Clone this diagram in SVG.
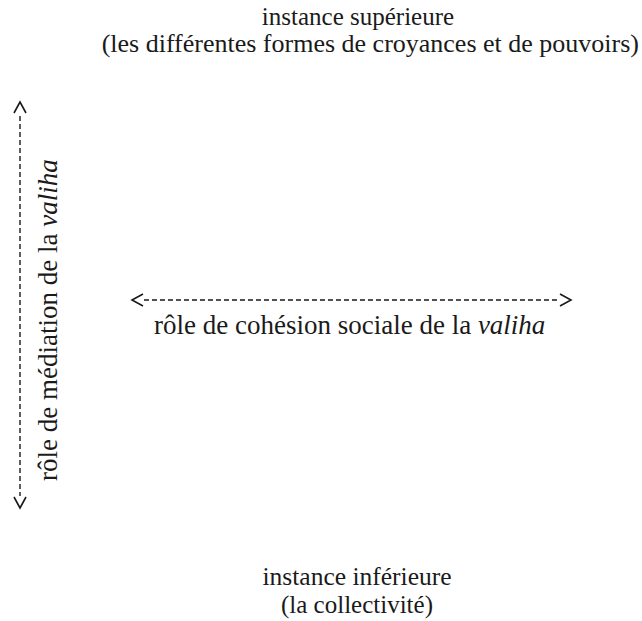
<svg xmlns="http://www.w3.org/2000/svg" width="642" height="621" viewBox="0 0 642 621">
<defs>
<style>
.dash{stroke:#1a1a1a;stroke-width:1.4;stroke-dasharray:5 3;fill:none}
.head{stroke:#1a1a1a;stroke-width:1.6;fill:none}
</style>
</defs>
<rect width="642" height="621" fill="#fff"/>
<g font-family="Liberation Serif" font-size="25" fill="#1a1a1a">
<g id="top">
<text x="358" y="25" text-anchor="middle">instance supérieure</text>
<text x="639" y="52" text-anchor="end" font-size="26">(les différentes formes de croyances et de pouvoirs)</text>
</g>
<g id="bottom">
<text x="357" y="585" text-anchor="middle" font-size="25.5">instance inférieure</text>
<text x="357" y="613" text-anchor="middle">(la collectivité)</text>
</g>
<g id="label-cohesion">
<text x="154" y="334" font-size="27">rôle de cohésion sociale de la <tspan font-style="italic">valiha</tspan></text>
</g>
<g id="label-mediation">
<text transform="translate(57,481) rotate(-90)" font-size="27">rôle de médiation de la <tspan font-style="italic">valiha</tspan></text>
</g>
</g>
<g id="connectors">
<g id="cohesion">
<line class="dash" x1="144" y1="300" x2="560" y2="300"/>
<polyline class="head" points="143,294 132,300 143,306"/>
<polyline class="head" points="560,294 571,300 560,306"/>
</g>
<g id="mediation">
<line class="dash" x1="20" y1="116" x2="20" y2="496"/>
<polyline class="head" points="14,113 20,102 26,113"/>
<polyline class="head" points="14,497 20,508 26,497"/>
</g>
</g>
</svg>
